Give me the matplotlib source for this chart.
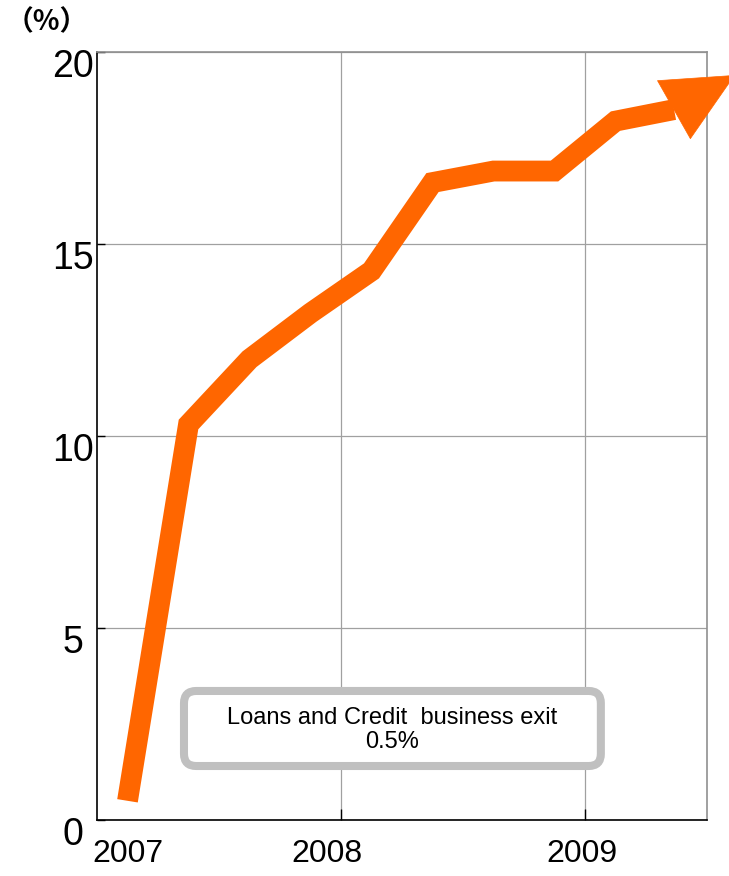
import numpy as np
import matplotlib
matplotlib.use("Agg")
import matplotlib.pyplot as plt
import matplotlib.transforms as mtransforms
from matplotlib.patches import FancyBboxPatch

# Quarterly share (%), x in years after Jan 2007
years = [0.125, 0.375, 0.625, 0.875, 1.125, 1.375, 1.625, 1.875, 2.125, 2.365]
share = [0.5, 10.3, 12.0, 13.2, 14.3, 16.6, 16.9, 16.9, 18.2, 18.5]
# where the arrow head points
tip = (2.615, 19.4)

year_labels = ["2007", "2008", "2009"]
year_label_pos = [0.127, 0.943, 1.988]
year_grid = [1, 2]
y_ticks = [0, 5, 10, 15, 20]

note_text = "Loans and Credit  business exit\n0.5%"

orange = "#FF6600"
grey = "#A0A0A0"

plt.rcParams["font.family"] = ["Liberation Sans", "DejaVu Sans"]

fig = plt.figure(figsize=(7.29, 8.76), dpi=100)
ax = fig.add_axes([97 / 729, 56 / 876, 610 / 729, 768 / 876])

ax.set_xlim(0, 2.5)
ax.set_ylim(0, 20)

# grid and frame
ax.set_xticks(year_grid)
ax.set_xticklabels([])
ax.set_xticks(year_label_pos, minor=True)
ax.set_xticklabels(year_labels, minor=True)
ax.set_yticks(y_ticks)
ax.set_yticklabels([str(v) for v in y_ticks])
ax.grid(True, which="major", color=grey, lw=0.9)
ax.set_axisbelow(True)

for side in ["top", "right"]:
    ax.spines[side].set_color("#909090")
    ax.spines[side].set_linewidth(1.2)
for side in ["left", "bottom"]:
    ax.spines[side].set_color("black")
    ax.spines[side].set_linewidth(1.2)

ax.tick_params(axis="x", which="major", direction="in", length=8, width=1, color="black")
ax.tick_params(axis="x", which="minor", length=0, pad=13.5, labelsize=23)
ax.tick_params(axis="y", which="major", direction="in", length=6, width=1, color="black",
               pad=17, labelsize=27)

# y labels sit a bit under their gridline, centred under the "(%)"
shift = mtransforms.ScaledTranslation(0, -11 / 100, fig.dpi_scale_trans)
for lab in ax.get_yticklabels():
    lab.set_horizontalalignment("center")
    lab.set_transform(lab.get_transform() + shift)

# the trend line and its arrow head
ax.plot(years, share, color=orange, lw=15, solid_joinstyle="miter",
        solid_capstyle="butt", zorder=3)
ax.annotate("", xy=tip, xytext=(years[-1], share[-1]),
            arrowprops=dict(arrowstyle="-|>,head_length=50,head_width=24",
                            mutation_scale=1, color=orange, lw=0.5,
                            shrinkA=0, shrinkB=0),
            annotation_clip=False, zorder=4)

# note box
box = FancyBboxPatch((0.1426, 0.0703), 0.826 - 0.1426, 0.168 - 0.0703,
                     boxstyle="round,pad=0,rounding_size=0.02",
                     mutation_aspect=610 / 768,
                     transform=ax.transAxes, facecolor="white",
                     edgecolor="#C0C0C0", lw=5.8, zorder=5)
ax.add_patch(box)
ax.text(0.483, 0.117, note_text, transform=ax.transAxes, ha="center",
        va="center", fontsize=17, linespacing=1.1, zorder=6)

fig.text(47 / 729, 1 - 22 / 876, "（%）", ha="center", va="center",
         fontsize=20, fontweight="bold",
         family=["Noto Sans CJK JP", "DejaVu Sans"])

fig.savefig("out.png", dpi=100)
